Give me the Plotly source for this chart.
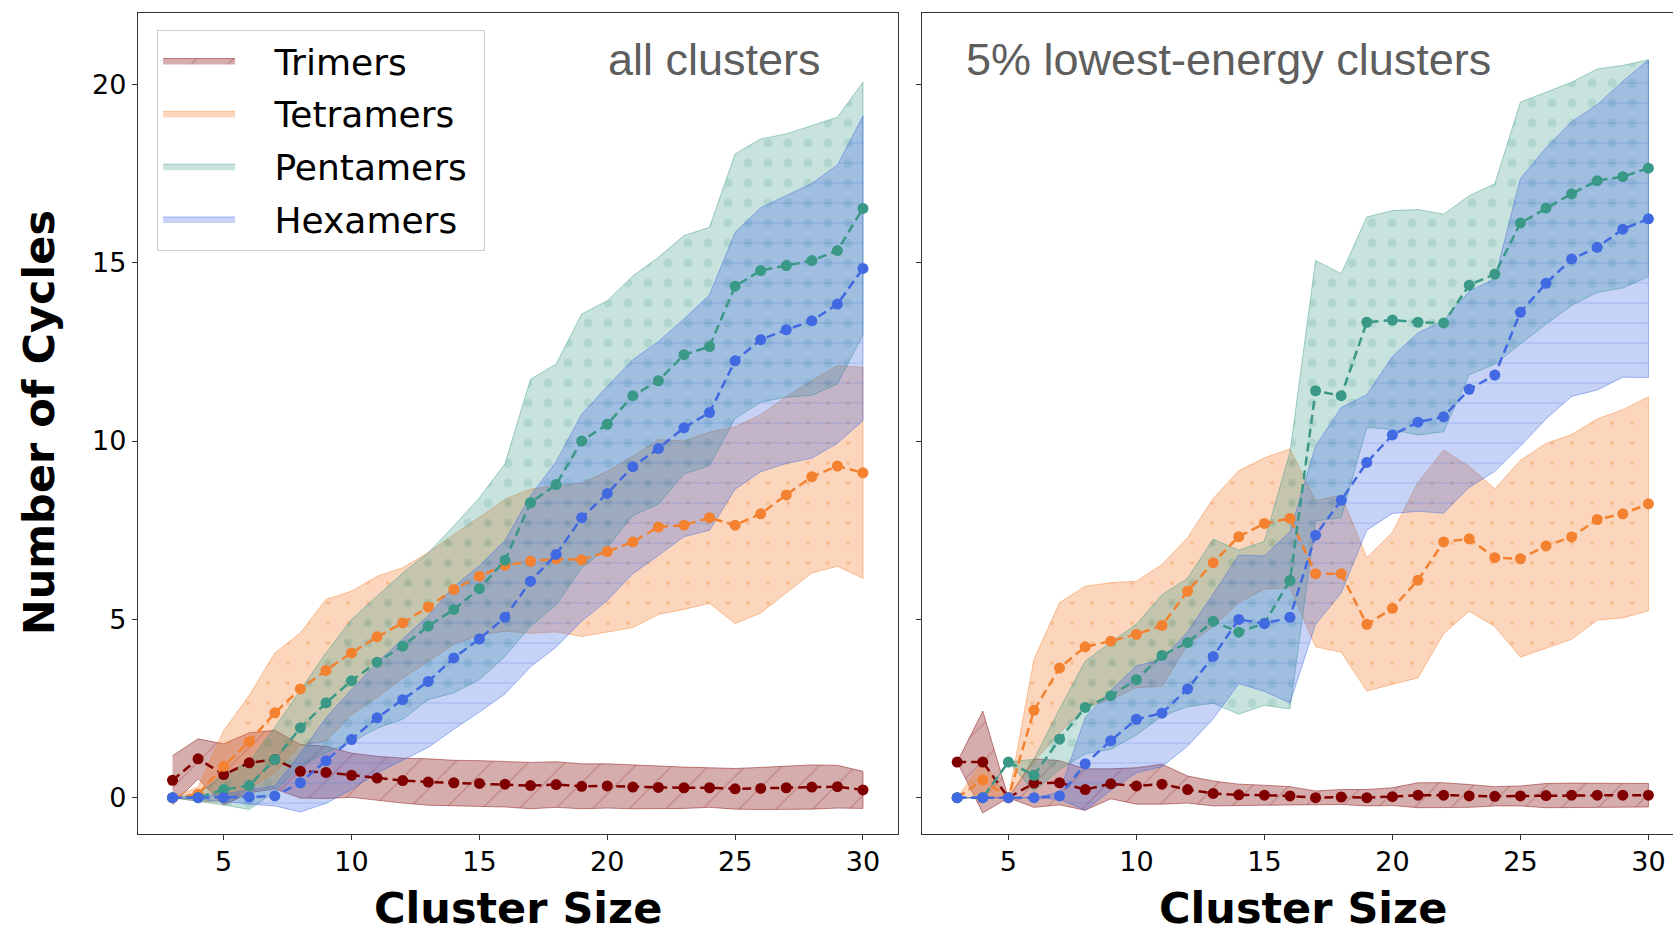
import plotly.graph_objects as go

# ---------------- data ----------------
sizes = list(range(3, 31))

# all clusters
tri_mean_all = [0.49, 1.09, 0.65, 0.98, 1.07, 0.74, 0.71, 0.63, 0.55, 0.48, 0.44, 0.42, 0.40, 0.38,
                0.34, 0.37, 0.32, 0.33, 0.30, 0.29, 0.28, 0.28, 0.25, 0.26, 0.28, 0.30, 0.31, 0.22]
tri_std_all = [0.69, 0.56, 0.86, 0.84, 0.82, 0.75, 0.73, 0.62, 0.61, 0.63, 0.65, 0.63, 0.64, 0.64,
               0.65, 0.64, 0.63, 0.62, 0.61, 0.60, 0.58, 0.55, 0.57, 0.59, 0.61, 0.62, 0.60, 0.52]
tet_mean_all = [0.0, 0.1, 0.88, 1.57, 2.38, 3.05, 3.57, 4.06, 4.51, 4.90, 5.35, 5.84, 6.21, 6.52,
                6.63, 6.70, 6.67, 6.90, 7.17, 7.59, 7.64, 7.85, 7.64, 7.96, 8.49, 9.00, 9.30, 9.11]
tet_std_all = [0.0, 0.2, 1.0, 1.3, 1.68, 1.57, 1.99, 1.73, 1.70, 1.55, 1.52, 1.54, 1.65, 1.85,
               2.02, 2.05, 2.15, 2.25, 2.40, 2.45, 2.36, 2.40, 2.76, 2.78, 2.75, 2.70, 2.81, 2.96]
pen_mean_all = [0.0, 0.0, 0.23, 0.34, 1.07, 1.96, 2.66, 3.28, 3.80, 4.25, 4.81, 5.28, 5.86, 6.66,
                8.27, 8.78, 10.00, 10.47, 11.27, 11.69, 12.42, 12.65, 14.34, 14.78, 14.92, 15.06, 15.34, 16.52]
pen_std_all = [0.0, 0.1, 0.43, 0.67, 0.90, 1.07, 1.40, 1.72, 1.85, 2.05, 2.06, 2.34, 2.55, 2.70,
               3.46, 3.38, 3.56, 3.46, 3.36, 3.46, 3.34, 3.34, 3.71, 3.69, 3.69, 3.78, 3.74, 3.54]
hex_mean_all = [0.0, 0.0, 0.0, 0.02, 0.05, 0.42, 1.04, 1.63, 2.24, 2.75, 3.26, 3.92, 4.45, 5.06,
                6.07, 6.82, 7.85, 8.53, 9.28, 9.79, 10.37, 10.80, 12.25, 12.84, 13.12, 13.37, 13.84, 14.84]
hex_std_all = [0.0, 0.05, 0.1, 0.2, 0.28, 0.82, 1.2, 1.4, 1.55, 1.7, 1.85, 2.0, 2.05, 2.15,
               2.4, 2.6, 2.9, 3.0, 3.0, 3.0, 3.05, 3.3, 3.6, 3.7, 3.75, 3.85, 3.9, 4.27]

# 5% lowest-energy clusters
tri_mean_low = [1.0, 1.0, 0.0, 0.41, 0.42, 0.23, 0.39, 0.33, 0.38, 0.23, 0.12, 0.08, 0.07, 0.05,
                0.0, 0.02, 0.0, 0.03, 0.07, 0.07, 0.05, 0.04, 0.05, 0.06, 0.07, 0.07, 0.07, 0.07]
tri_std_low = [0.0, 1.43, 0.0, 0.68, 0.62, 0.58, 0.42, 0.51, 0.56, 0.38, 0.35, 0.30, 0.28, 0.26,
               0.19, 0.21, 0.23, 0.25, 0.35, 0.35, 0.32, 0.27, 0.28, 0.34, 0.34, 0.33, 0.33, 0.33]
tet_mean_low = [0.0, 0.5, 0.0, 2.45, 3.64, 4.23, 4.39, 4.58, 4.83, 5.79, 6.59, 7.32, 7.69, 7.83,
                6.28, 6.28, 4.86, 5.31, 6.10, 7.17, 7.26, 6.73, 6.70, 7.06, 7.31, 7.80, 7.96, 8.24]
tet_std_low = [0.0, 0.5, 0.0, 1.43, 1.83, 1.70, 1.64, 1.49, 1.71, 1.50, 1.80, 1.85, 1.84, 1.95,
               2.05, 2.20, 1.87, 2.13, 2.74, 2.57, 2.03, 1.93, 2.76, 2.87, 2.87, 2.82, 2.92, 3.00]
pen_mean_low = [0.0, 0.0, 1.0, 0.63, 1.64, 2.53, 2.86, 3.31, 3.99, 4.35, 4.95, 4.64, 4.89, 6.09,
                11.41, 11.27, 13.33, 13.39, 13.33, 13.31, 14.37, 14.68, 16.11, 16.53, 16.93, 17.30, 17.41, 17.65]
pen_std_low = [0.0, 0.0, 0.0, 0.45, 0.85, 1.3, 1.5, 1.55, 1.7, 1.8, 2.3, 2.3, 2.3, 3.6,
               3.65, 3.42, 2.95, 3.07, 3.16, 3.05, 2.51, 2.53, 3.39, 3.25, 3.13, 3.13, 3.12, 3.04]
hex_mean_low = [0.0, 0.0, 0.0, 0.0, 0.05, 0.95, 1.60, 2.20, 2.37, 3.05, 3.96, 5.00, 4.88, 5.06,
                7.36, 8.34, 9.40, 10.17, 10.53, 10.68, 11.45, 11.85, 13.61, 14.42, 15.10, 15.43, 15.94, 16.23]
hex_std_low = [0.0, 0.0, 0.0, 0.0, 0.1, 1.3, 1.4, 1.5, 1.5, 1.6, 1.75, 1.8, 1.9, 2.4,
               2.5, 2.6, 1.9, 2.2, 2.5, 2.7, 2.75, 2.7, 3.75, 3.8, 3.85, 4.0, 4.15, 4.45]

series_names = ["Trimers", "Tetramers", "Pentamers", "Hexamers"]
panel_titles = ["all clusters", "5% lowest-energy clusters"]
x_title = "Cluster Size"
y_title = "Number of Cycles"
x_ticks = [5, 10, 15, 20, 25, 30]
y_ticks = [0, 5, 10, 15, 20]

panels = [
    [(tri_mean_all, tri_std_all), (tet_mean_all, tet_std_all),
     (pen_mean_all, pen_std_all), (hex_mean_all, hex_std_all)],
    [(tri_mean_low, tri_std_low), (tet_mean_low, tet_std_low),
     (pen_mean_low, pen_std_low), (hex_mean_low, hex_std_low)],
]

# ---------------- styles ----------------
styles = {
    "Trimers": dict(color="#800000", fill="rgba(128,0,0,0.32)", edge="rgba(128,0,0,0.45)",
                    pattern=dict(shape="/", size=26, solidity=0.05, fgcolor="rgba(128,0,0,0.45)")),
    "Tetramers": dict(color="#F3812F", fill="rgba(243,129,47,0.32)", edge="rgba(243,129,47,0.45)",
                      pattern=dict(shape=".", size=20, solidity=0.035, fgcolor="rgba(243,129,47,0.6)")),
    "Pentamers": dict(color="#3A9886", fill="rgba(58,152,134,0.28)", edge="rgba(58,152,134,0.45)",
                      pattern=dict(shape=".", size=20, solidity=0.16, fgcolor="rgba(58,152,134,0.32)")),
    "Hexamers": dict(color="#4169E1", fill="rgba(65,105,225,0.30)", edge="rgba(65,105,225,0.45)",
                     pattern=dict(shape="-", size=20, solidity=0.06, fgcolor="rgba(65,105,225,0.45)")),
}

NB = "\u00a0"
fig = go.Figure()
axes = [("x", "y"), ("x2", "y2")]

# bands first
for p, (xa, ya) in enumerate(axes):
    for name, (mean, std) in zip(series_names, panels[p]):
        st = styles[name]
        upper = [m + s for m, s in zip(mean, std)]
        lower = [m - s for m, s in zip(mean, std)]
        fig.add_trace(go.Scatter(
            x=sizes + sizes[::-1], y=upper + lower[::-1],
            xaxis=xa, yaxis=ya, mode="lines", fill="toself",
            fillcolor=st["fill"], fillpattern=st["pattern"],
            line=dict(color=st["edge"], width=1),
            name=NB * 3 + name + NB, legendgroup=name, showlegend=(p == 0), hoverinfo="skip",
        ))

# mean lines on top
for p, (xa, ya) in enumerate(axes):
    for name, (mean, std) in zip(series_names, panels[p]):
        st = styles[name]
        fig.add_trace(go.Scatter(
            x=sizes, y=mean, xaxis=xa, yaxis=ya, mode="lines+markers",
            line=dict(color=st["color"], width=2.5, dash="9px,5px"),
            marker=dict(color=st["color"], size=11),
            name=name, legendgroup=name, showlegend=False,
        ))

W, H = 1673, 936
ml, mr, mt, mb = 137.6, 0, 12.8, 101.6
pw = W - ml - mr
ph = H - mt - mb
x1_dom = [0, (897.3 - ml) / pw]
x2_dom = [(921.9 - ml) / pw, 1]

axis_common = dict(showline=True, linecolor="#333333", linewidth=1.3, ticks="outside",
                   ticklen=5, tickwidth=1.3, tickcolor="#333333", showgrid=False, zeroline=False,
                   tickfont=dict(family="DejaVu Sans", size=27, color="black"))

fig.update_layout(
    width=W, height=H,
    margin=dict(l=ml, r=mr, t=mt, b=mb, pad=0),
    plot_bgcolor="white", paper_bgcolor="white",
    xaxis=dict(domain=x1_dom, range=[1.65, 31.35], tickvals=x_ticks, mirror=True, anchor="y",
               ticklabelstandoff=-2, **axis_common),
    xaxis2=dict(domain=x2_dom, range=[1.63, 30.96], tickvals=x_ticks, mirror=True, anchor="y2",
                ticklabelstandoff=-2, **axis_common),
    yaxis=dict(range=[-1.017, 22.0], tickvals=y_ticks, mirror=True, anchor="x", **axis_common),
    yaxis2=dict(range=[-1.017, 22.0], tickvals=y_ticks, showticklabels=False, mirror=False,
                anchor="x2", **axis_common),
    legend=dict(x=(156.7 - ml) / pw, y=(834.4 - 29.5) / ph, xanchor="left", yanchor="top",
                bgcolor="white", bordercolor="#cccccc", borderwidth=1,
                font=dict(family="DejaVu Sans", size=36, color="black"),
                itemwidth=72, tracegroupgap=3),
    showlegend=True,
)

annotations = [
    dict(text=panel_titles[0], xref="x domain", yref="y domain", x=(823 - 137.6) / (897.3 - 137.6),
         y=(834.4 - 59) / ph, xanchor="right", yanchor="middle", showarrow=False,
         font=dict(family="Liberation Sans", size=45, color="#5e5e5e")),
    dict(text=panel_titles[1], xref="x2 domain", yref="y2 domain", x=(963.5 - 921.9) / (W - 921.9),
         y=(834.4 - 59) / ph, xanchor="left", yanchor="middle", showarrow=False,
         font=dict(family="Liberation Sans", size=45, color="#5e5e5e")),
    dict(text="<b>" + x_title + "</b>", xref="x domain", yref="paper", x=0.5, xanchor="center",
         y=0, yanchor="middle", yshift=-74, showarrow=False,
         font=dict(family="DejaVu Sans", size=43, color="black")),
    dict(text="<b>" + x_title + "</b>", xref="x2 domain", yref="paper",
         x=(1302.8 - 921.9) / (W - 921.9), xanchor="center",
         y=0, yanchor="middle", yshift=-74, showarrow=False,
         font=dict(family="DejaVu Sans", size=43, color="black")),
    dict(text="<b>" + y_title + "</b>", xref="paper", yref="paper", x=0, y=(834.4 - 422.5) / ph,
         xanchor="center", yanchor="middle", xshift=-(ml - 39.5), textangle=-90, showarrow=False,
         font=dict(family="DejaVu Sans", size=43, color="black")),
]
fig.update_layout(annotations=annotations)

fig.write_html("out.html")
